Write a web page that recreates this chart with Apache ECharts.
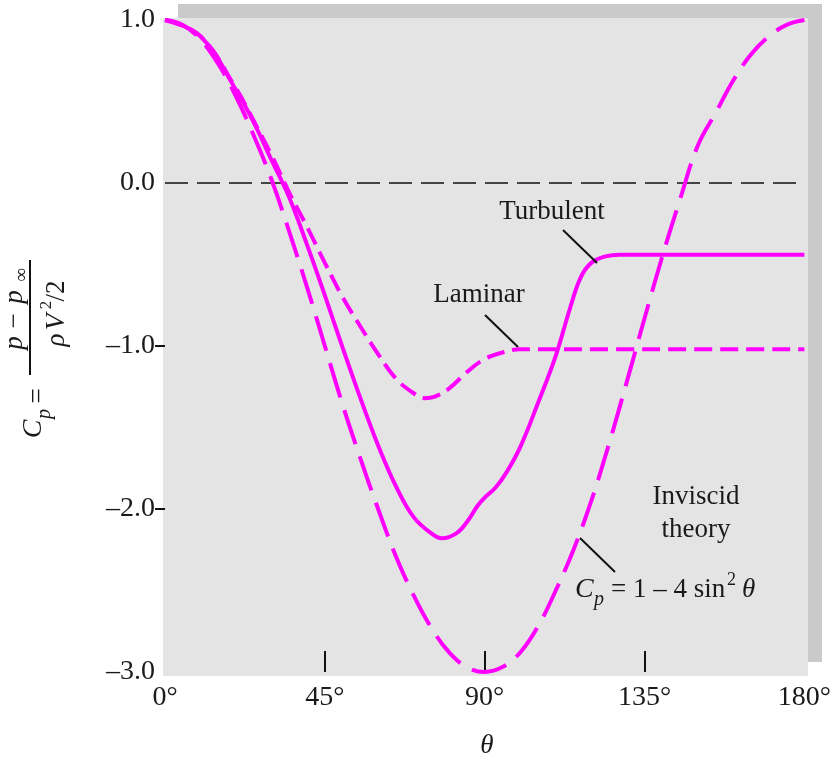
<!DOCTYPE html>
<html>
<head>
<meta charset="utf-8">
<script src="https://cdn.jsdelivr.net/npm/echarts@6/dist/echarts.min.js"></script>
<style>
  html, body { margin: 0; padding: 0; background: #fff; }
  #chart { width: 834px; height: 761px; }
</style>
</head>
<body>
<div id="chart"></div>
<script>
// theta in degrees, Cp
const inviscid = [
  [0, 1.0], [5, 0.97], [10, 0.88], [15, 0.73], [20, 0.53], [25, 0.29],
  [30, 0.02], [35, -0.30], [40, -0.64], [45, -1.0], [50, -1.36], [55, -1.69],
  [60, -2.0], [65, -2.29], [70, -2.53], [75, -2.73], [80, -2.88], [85, -2.97],
  [90, -3.0], [95, -2.97], [100, -2.88], [105, -2.72], [110, -2.50], [115, -2.25],
  [120, -1.95], [125, -1.60], [130, -1.22], [135, -0.83], [140, -0.45], [145, -0.10],
  [150, 0.23], [155, 0.43], [160, 0.63], [165, 0.79], [170, 0.90], [175, 0.97], [180, 1.0]
];
const laminar = [
  [0, 1.0], [10, 0.90], [20, 0.58], [25, 0.38], [30, 0.17], [35, -0.06],
  [40, -0.27], [45, -0.49], [50, -0.70], [55, -0.88], [60, -1.05], [65, -1.20],
  [70, -1.29], [73, -1.32], [76, -1.31], [80, -1.26], [85, -1.16], [90, -1.08],
  [95, -1.04], [100, -1.02], [180, -1.02]
];
const turbulent = [
  [0, 1.0], [10, 0.90], [20, 0.57], [25, 0.37], [30, 0.14], [35, -0.09],
  [40, -0.38], [45, -0.69], [50, -1.01], [55, -1.32], [60, -1.61], [65, -1.86],
  [70, -2.05], [75, -2.15], [78, -2.18], [82, -2.15], [85, -2.08], [88, -1.98],
  [90, -1.93], [93, -1.87], [96, -1.78], [100, -1.62], [105, -1.35], [110, -1.06],
  [114, -0.77], [117, -0.58], [120, -0.49], [124, -0.45], [128, -0.44], [180, -0.44]
];
const zeroLine = [[0, 0], [180, 0]];
const xTicks = [45, 90, 135];
const yTicks = [-1, -2];

const serif = "'Liberation Serif', 'DejaVu Serif', serif";
const magenta = "#ff00ff";
const ink = "#1a1a1a";

const chart = echarts.init(document.getElementById("chart"));

const txt = (x, y, text, font, align) => ({
  type: "text",
  x: x,
  y: y,
  z: 100,
  style: {
    text: text,
    fill: ink,
    font: font || "27px " + serif,
    align: align || "center",
    verticalAlign: "middle"
  }
});
const leader = (x1, y1, x2, y2) => ({
  type: "line",
  z: 100,
  shape: { x1: x1, y1: y1, x2: x2, y2: y2 },
  style: { stroke: "#111", lineWidth: 2 }
});

const option = {
  backgroundColor: "#fff",
  animation: false,
  grid: { left: 165, right: 27, top: 20, bottom: 89 },
  xAxis: {
    type: "value",
    min: 0,
    max: 180,
    interval: 45,
    axisLine: { show: false, onZero: false },
    splitLine: { show: false },
    axisTick: {
      show: true,
      inside: true,
      length: 21,
      customValues: xTicks,
      lineStyle: { color: "#111", width: 2 }
    },
    axisLabel: {
      margin: 12,
      color: ink,
      fontFamily: serif,
      fontSize: 28,
      formatter: "{value}°"
    }
  },
  yAxis: {
    type: "value",
    min: -3,
    max: 1,
    interval: 1,
    axisLine: { show: false, onZero: false },
    splitLine: { show: false },
    axisTick: {
      show: true,
      inside: false,
      length: 10,
      customValues: yTicks,
      lineStyle: { color: "#111", width: 2 }
    },
    axisLabel: {
      margin: 10,
      color: ink,
      fontFamily: serif,
      fontSize: 28,
      formatter: v => (v < 0 ? "\u2013" + Math.abs(v).toFixed(1) : v.toFixed(1))
    }
  },
  graphic: [
    // drop shadow and plot background
    { type: "rect", z: -2, silent: true, shape: { x: 178, y: 4, width: 644, height: 658 }, style: { fill: "#cacaca" } },
    { type: "rect", z: -1, silent: true, shape: { x: 163, y: 18, width: 645, height: 658 }, style: { fill: "#e4e4e4" } },

    txt(552, 212, "Turbulent"),
    leader(563, 230, 597, 263),
    txt(479, 295, "Laminar"),
    leader(485, 315, 518, 347),
    txt(696, 497, "Inviscid"),
    txt(696, 530, "theory"),
    leader(580, 538, 615, 572),

    // Cp = 1 - 4 sin^2 theta
    txt(575, 590, "C", "italic 28px " + serif, "left"),
    txt(594, 600, "p", "italic 20px " + serif, "left"),
    txt(611, 590, "= 1 \u2013 4 sin", "27px " + serif, "left"),
    txt(727, 580, "2", "18px " + serif, "left"),
    txt(742, 590, "\u03b8", "italic 27px " + serif, "left"),

    txt(487, 746, "\u03b8", "italic 27px " + serif),

    // y-axis title, rotated to read bottom to top
    {
      type: "group",
      x: 30,
      y: 317,
      rotation: Math.PI / 2,
      z: 100,
      children: [
        { type: "line", shape: { x1: -58, y1: 0, x2: 57, y2: 0 }, style: { stroke: "#111", lineWidth: 2 } },
        txt(-26, -15, "p", "italic 27px " + serif),
        txt(-4, -15, "\u2212", "27px " + serif),
        txt(20, -15, "p", "italic 27px " + serif),
        txt(42, -8, "\u221e", "19px " + serif),
        txt(-23, 27, "\u03c1", "italic 27px " + serif),
        txt(-5, 27, "V", "italic 27px " + serif),
        txt(12, 17, "2", "17px " + serif),
        txt(26, 27, "/2", "27px " + serif),
        txt(-79, 8, "=", "27px " + serif),
        txt(-112, 4, "C", "italic 28px " + serif),
        txt(-97, 15, "p", "italic 20px " + serif)
      ]
    }
  ],
  series: [
    {
      name: "zero",
      type: "line",
      data: zeroLine,
      showSymbol: false,
      z: 1,
      lineStyle: { color: "#111", width: 1.5, type: [23, 9] }
    },
    {
      name: "Inviscid",
      type: "line",
      data: inviscid,
      smooth: 0.4,
      showSymbol: false,
      lineStyle: { color: magenta, width: 4, type: [36, 13] }
    },
    {
      name: "Laminar",
      type: "line",
      data: laminar,
      smooth: 0.4,
      showSymbol: false,
      lineStyle: { color: magenta, width: 4, type: [18, 8] }
    },
    {
      name: "Turbulent",
      type: "line",
      data: turbulent,
      smooth: 0.4,
      showSymbol: false,
      lineStyle: { color: magenta, width: 4 }
    }
  ]
};

chart.setOption(option);
</script>
</body>
</html>
